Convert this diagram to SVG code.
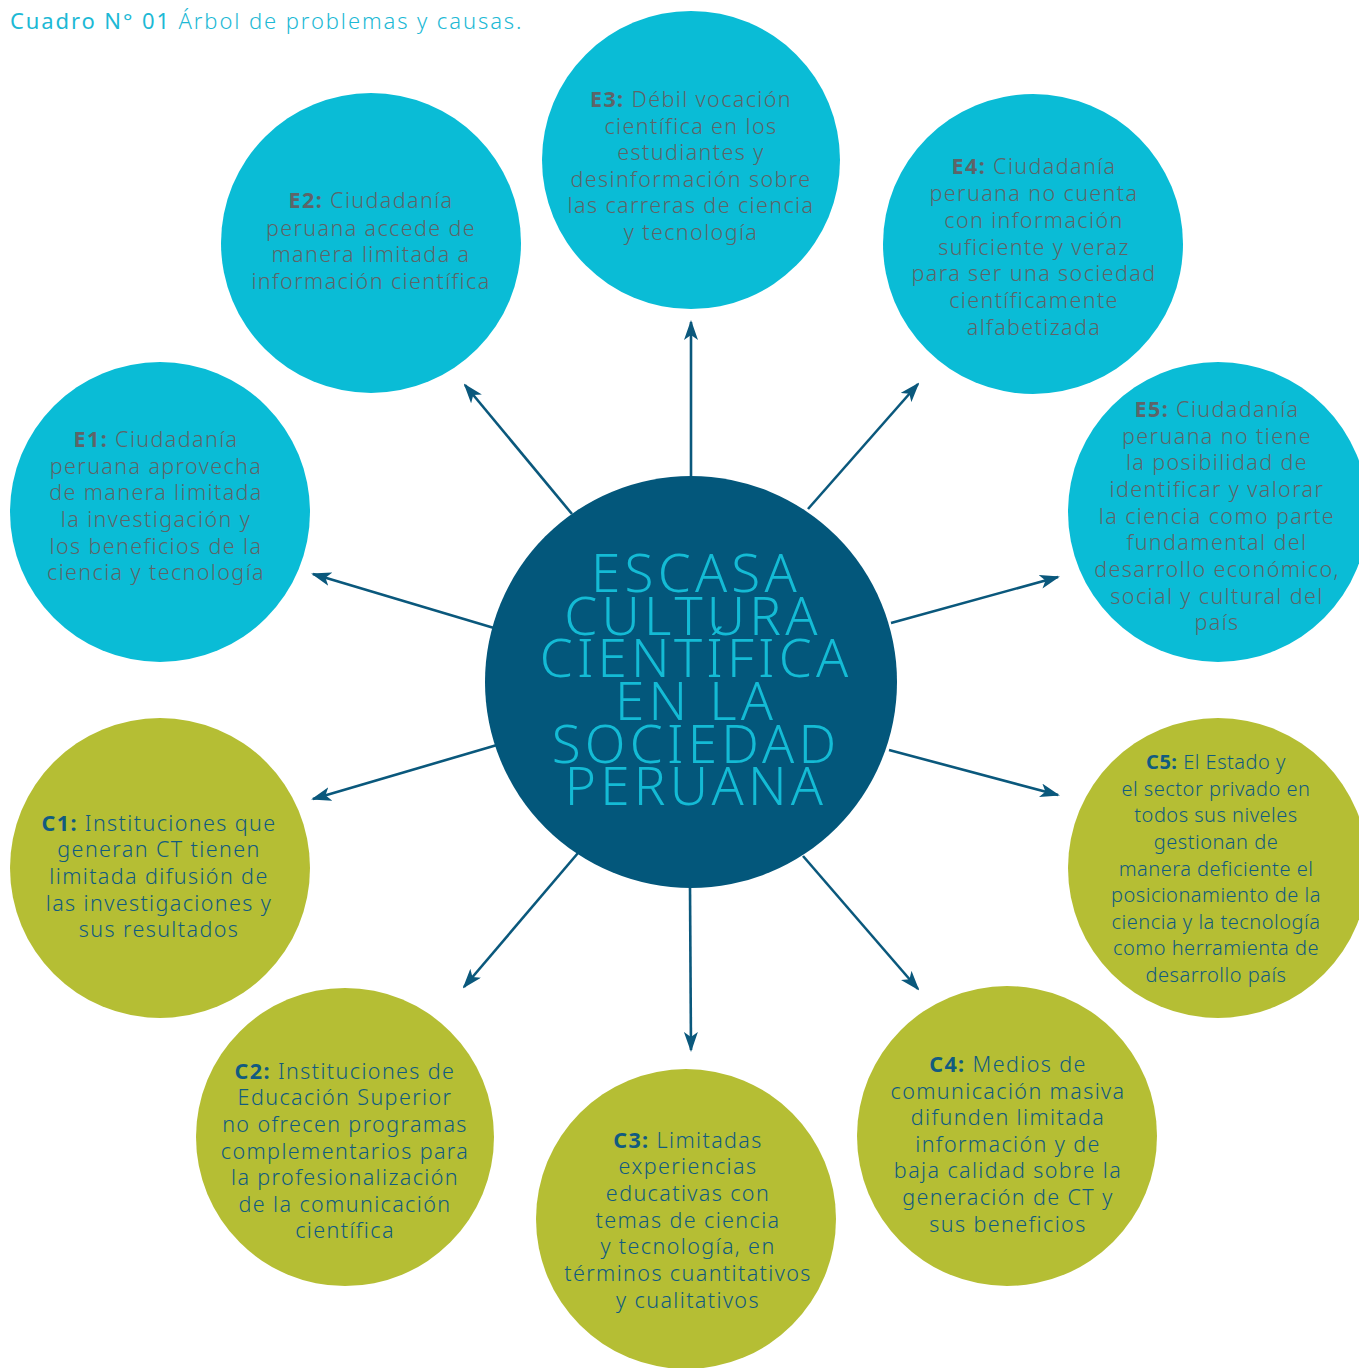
<svg xmlns="http://www.w3.org/2000/svg" width="1359" height="1368" viewBox="0 0 1359 1368">
<style>
.e{fill:#0ABCD6}
.c{fill:#B5BE34}
.t{font-family:"Noto Sans","Liberation Sans",sans-serif;font-size:21.5px;letter-spacing:1.4px;text-anchor:middle;font-weight:300}
.s{font-size:20px;letter-spacing:0.5px}
.et{fill:#5E6468}
.ct{fill:#115B80}
.b{font-weight:700}
.ctr{font-family:"Noto Sans","Liberation Sans",sans-serif;font-size:53px;letter-spacing:4.2px;fill:#14BBD5;text-anchor:middle;font-weight:300}
.ln{stroke:#0A587C;stroke-width:2.6;fill:none;marker-end:url(#ah)}
</style>
<defs>
<marker id="ah" viewBox="0 0 20 14" refX="18" refY="7" markerWidth="20" markerHeight="14" markerUnits="userSpaceOnUse" orient="auto">
<path d="M0,0 L20,7 L0,14 L5,7 Z" fill="#0A587C"/>
</marker>
</defs>
<rect width="1359" height="1368" fill="#FFFFFF"/>
<text x="10" y="29" font-family="'Noto Sans','Liberation Sans',sans-serif" font-size="22" letter-spacing="1.9" fill="#1DB9D5" font-weight="300"><tspan font-weight="400">Cuadro N° 01</tspan> Árbol de problemas y causas.</text>

<g id="connectors">
<line class="ln" x1="691" y1="476" x2="691" y2="322"/>
<line class="ln" x1="572" y1="514" x2="465" y2="385"/>
<line class="ln" x1="808" y1="509" x2="918" y2="384"/>
<line class="ln" x1="494" y1="628" x2="313" y2="574"/>
<line class="ln" x1="891" y1="623" x2="1058" y2="577"/>
<line class="ln" x1="497" y1="745" x2="313" y2="799"/>
<line class="ln" x1="889" y1="750" x2="1058" y2="795"/>
<line class="ln" x1="578" y1="853" x2="464" y2="987"/>
<line class="ln" x1="690" y1="887" x2="691" y2="1050"/>
<line class="ln" x1="803" y1="856" x2="918" y2="989"/>
</g>

<g id="center">
<circle cx="691" cy="682" r="206" fill="#03577B"/>
<text class="ctr" x="696" y="592">ESCASA</text>
<text class="ctr" x="693" y="635">CULTURA</text>
<text class="ctr" x="696" y="677">CIENTÍFICA</text>
<text class="ctr" x="696" y="720">EN LA</text>
<text class="ctr" x="696" y="763">SOCIEDAD</text>
<text class="ctr" x="696" y="805">PERUANA</text>
</g>

<g id="E3">
<circle class="e" cx="691" cy="160" r="149"/>
<text class="t et" x="691" y="107"><tspan class="b">E3:</tspan> Débil vocación</text>
<text class="t et" x="691" y="134">científica en los</text>
<text class="t et" x="691" y="160">estudiantes y</text>
<text class="t et" x="691" y="187">desinformación sobre</text>
<text class="t et" x="691" y="213">las carreras de ciencia</text>
<text class="t et" x="691" y="240">y tecnología</text>
</g>

<g id="E2">
<circle class="e" cx="371" cy="243" r="150"/>
<text class="t et" x="371" y="208"><tspan class="b">E2:</tspan> Ciudadanía</text>
<text class="t et" x="371" y="236">peruana accede de</text>
<text class="t et" x="371" y="262">manera limitada a</text>
<text class="t et" x="371" y="289">información científica</text>
</g>

<g id="E4">
<circle class="e" cx="1033" cy="244" r="150"/>
<text class="t et" x="1034" y="174"><tspan class="b">E4:</tspan> Ciudadanía</text>
<text class="t et" x="1034" y="201">peruana no cuenta</text>
<text class="t et" x="1034" y="228">con información</text>
<text class="t et" x="1034" y="255">suficiente y veraz</text>
<text class="t et" x="1034" y="281">para ser una sociedad</text>
<text class="t et" x="1034" y="308">científicamente</text>
<text class="t et" x="1034" y="335">alfabetizada</text>
</g>

<g id="E1">
<circle class="e" cx="160" cy="512" r="150"/>
<text class="t et" x="156" y="447"><tspan class="b">E1:</tspan> Ciudadanía</text>
<text class="t et" x="156" y="474">peruana aprovecha</text>
<text class="t et" x="156" y="500">de manera limitada</text>
<text class="t et" x="156" y="527">la investigación y</text>
<text class="t et" x="156" y="554">los beneficios de la</text>
<text class="t et" x="156" y="580">ciencia y tecnología</text>
</g>

<g id="E5">
<circle class="e" cx="1218" cy="512" r="150"/>
<text class="t et" x="1217" y="417"><tspan class="b">E5:</tspan> Ciudadanía</text>
<text class="t et" x="1217" y="444">peruana no tiene</text>
<text class="t et" x="1217" y="470">la posibilidad de</text>
<text class="t et" x="1217" y="497">identificar y valorar</text>
<text class="t et" x="1217" y="524">la ciencia como parte</text>
<text class="t et" x="1217" y="550">fundamental del</text>
<text class="t et" x="1217" y="577">desarrollo económico,</text>
<text class="t et" x="1217" y="604">social y cultural del</text>
<text class="t et" x="1217" y="630">país</text>
</g>

<g id="C1">
<circle class="c" cx="160" cy="868" r="150"/>
<text class="t ct" x="159" y="831"><tspan class="b">C1:</tspan> Instituciones que</text>
<text class="t ct" x="159" y="857">generan CT tienen</text>
<text class="t ct" x="159" y="884">limitada difusión de</text>
<text class="t ct" x="159" y="911">las investigaciones y</text>
<text class="t ct" x="159" y="937">sus resultados</text>
</g>

<g id="C5">
<circle class="c" cx="1218" cy="868" r="150"/>
<text class="t s ct" x="1216" y="769"><tspan class="b">C5:</tspan> El Estado y</text>
<text class="t s ct" x="1216" y="796">el sector privado en</text>
<text class="t s ct" x="1216" y="822">todos sus niveles</text>
<text class="t s ct" x="1216" y="849">gestionan de</text>
<text class="t s ct" x="1216" y="876">manera deficiente el</text>
<text class="t s ct" x="1216" y="902">posicionamiento de la</text>
<text class="t s ct" x="1216" y="929">ciencia y la tecnología</text>
<text class="t s ct" x="1216" y="955">como herramienta de</text>
<text class="t s ct" x="1216" y="982">desarrollo país</text>
</g>

<g id="C2">
<circle class="c" cx="345" cy="1137" r="149"/>
<text class="t ct" x="345" y="1079"><tspan class="b">C2:</tspan> Instituciones de</text>
<text class="t ct" x="345" y="1105">Educación Superior</text>
<text class="t ct" x="345" y="1132">no ofrecen programas</text>
<text class="t ct" x="345" y="1159">complementarios para</text>
<text class="t ct" x="345" y="1185">la profesionalización</text>
<text class="t ct" x="345" y="1212">de la comunicación</text>
<text class="t ct" x="345" y="1238">científica</text>
</g>

<g id="C3">
<circle class="c" cx="686" cy="1219" r="150"/>
<text class="t ct" x="688" y="1148"><tspan class="b">C3:</tspan> Limitadas</text>
<text class="t ct" x="688" y="1174">experiencias</text>
<text class="t ct" x="688" y="1201">educativas con</text>
<text class="t ct" x="688" y="1228">temas de ciencia</text>
<text class="t ct" x="688" y="1254">y tecnología, en</text>
<text class="t ct" x="688" y="1281">términos cuantitativos</text>
<text class="t ct" x="688" y="1308">y cualitativos</text>
</g>

<g id="C4">
<circle class="c" cx="1007" cy="1136" r="150"/>
<text class="t ct" x="1008" y="1072"><tspan class="b">C4:</tspan> Medios de</text>
<text class="t ct" x="1008" y="1099">comunicación masiva</text>
<text class="t ct" x="1008" y="1125">difunden limitada</text>
<text class="t ct" x="1008" y="1152">información y de</text>
<text class="t ct" x="1008" y="1178">baja calidad sobre la</text>
<text class="t ct" x="1008" y="1205">generación de CT y</text>
<text class="t ct" x="1008" y="1232">sus beneficios</text>
</g>
</svg>
